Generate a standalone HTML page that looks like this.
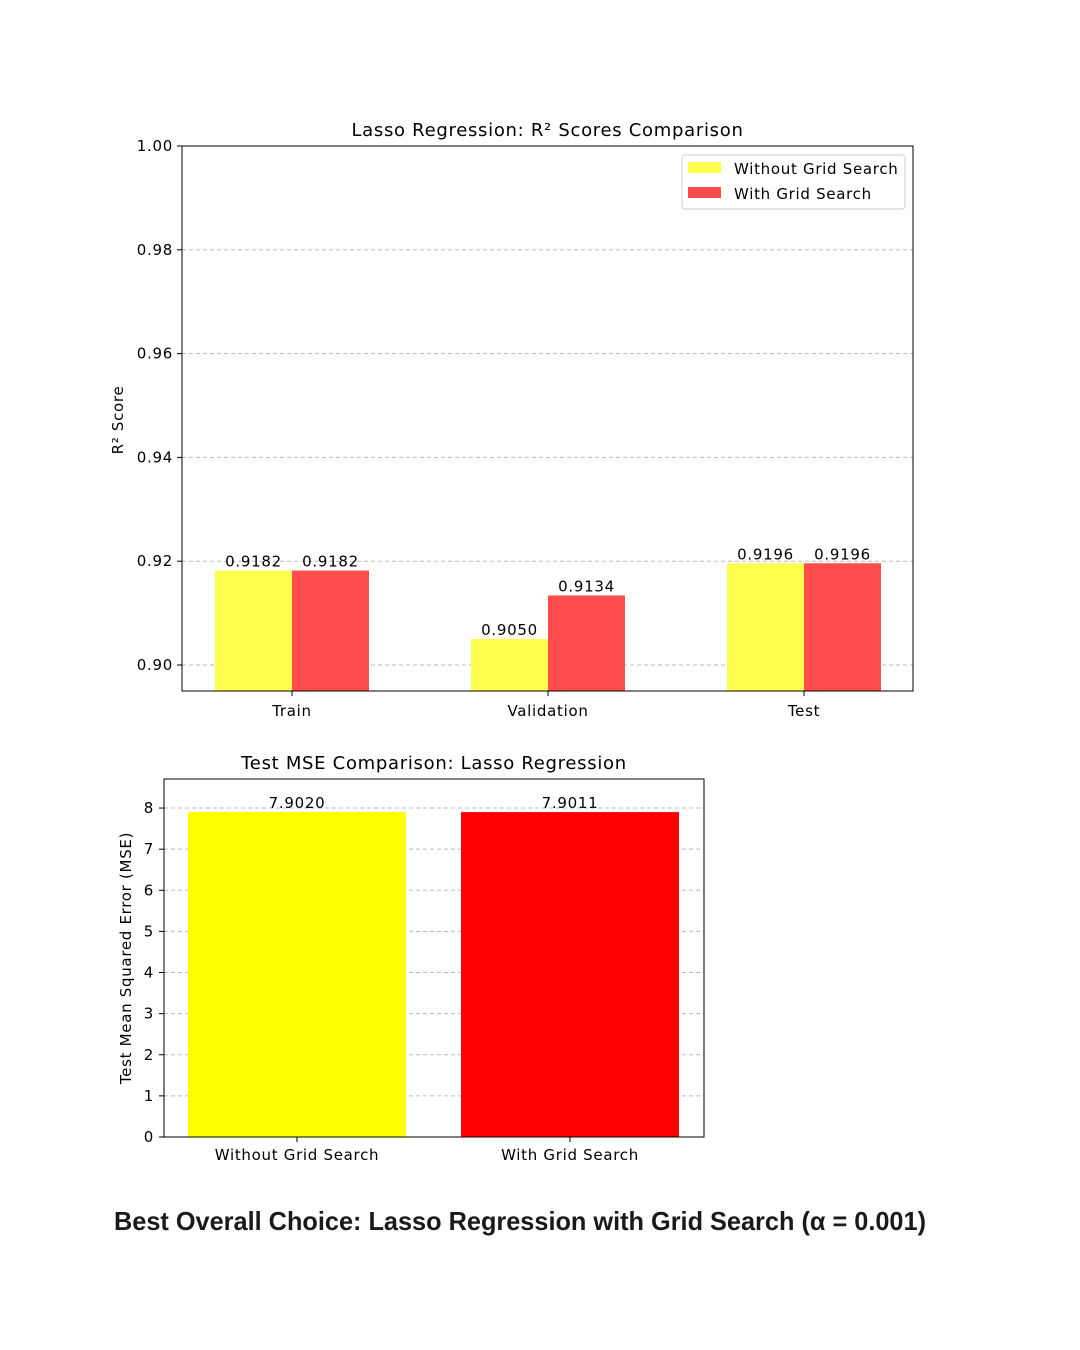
<!DOCTYPE html>
<html><head><meta charset="utf-8">
<style>
body{margin:0;background:#fff;}
svg{display:block;font-family:"DejaVu Sans","Liberation Sans",sans-serif;}
svg g text{letter-spacing:0.7px;}
</style></head>
<body>
<svg id="svg" width="1080" height="1350" xmlns="http://www.w3.org/2000/svg">
<text x="114" y="1230" font-size="26" font-weight="bold" textLength="812" lengthAdjust="spacingAndGlyphs" font-family="Liberation Sans, sans-serif" fill="#1a1a1a">Best Overall Choice: Lasso Regression with Grid Search (α = 0.001)</text>
</svg>
<script>
const categories = ["Train","Validation","Test"];
const withoutGS = [0.9182,0.9050,0.9196];
const withGS = [0.9182,0.9134,0.9196];
const r2Ticks = [0.90,0.92,0.94,0.96,0.98,1.00];
const mseCategories = ["Without Grid Search","With Grid Search"];
const mseValues = [7.9020,7.9011];
const mseTicks = [0,1,2,3,4,5,6,7,8];

const NS="http://www.w3.org/2000/svg";
const svg=document.getElementById('svg');
function mk(tag,attrs,parent,text){const e=document.createElementNS(NS,tag);for(const k in attrs)e.setAttribute(k,attrs[k]);if(text!==undefined)e.textContent=text;(parent||svg).appendChild(e);return e;}

// Chart 1
const g1=mk('g',{});


const L1=182,R1=913,T1=146,B1=691;
const y1=v=>146+(1.00-v)*5190;
const x1=i=>292+i*256;
r2Ticks.forEach(t=>{
  const y=y1(t);
  if(t<1.0){const gl=mk('line',{x1:L1,x2:R1,y1:y,y2:y,stroke:'#bbb','stroke-dasharray':'4,3','stroke-width':1},g1);
  }
  mk('line',{x1:L1-5,x2:L1,y1:y,y2:y,stroke:'#000'},g1);
  const tl=mk('text',{x:L1-9,y:y+5,'text-anchor':'end','font-size':15},g1,t.toFixed(2));
  
});
const bw=77;
categories.forEach((c,i)=>{
  const cx=x1(i);
  [[withoutGS[i],'#ffff4d',cx-bw],[withGS[i],'#ff4d4d',cx]].forEach(([v,col,x],j)=>{
    const y=y1(v);
    const b=mk('rect',{x:x,y:y,width:bw,height:B1-y,fill:col},g1);
    
    
    const vl=mk('text',{x:x+bw/2,y:y-4,'text-anchor':'middle','font-size':15},g1,v.toFixed(4));
    
  });
  mk('line',{x1:cx,x2:cx,y1:B1,y2:B1+5,stroke:'#000'},g1);
  const xl=mk('text',{x:cx,y:B1+25,'text-anchor':'middle','font-size':15},g1,c);
  
});
mk('rect',{x:L1,y:T1,width:R1-L1,height:B1-T1,fill:'none',stroke:'#000'},g1);
const t1=mk('text',{x:(L1+R1)/2,y:T1-10,'text-anchor':'middle','font-size':18},g1,'Lasso Regression: R² Scores Comparison');

const ya=mk('text',{x:123,y:420,'text-anchor':'middle','font-size':15,transform:'rotate(-90 123 420)'},g1,'R² Score');

const lg=mk('g',{},g1);

mk('rect',{x:682,y:155,width:223,height:54,fill:'#fff',stroke:'#ccc',rx:3},lg);
mk('rect',{x:688,y:162,width:33,height:11,fill:'#ffff4d'},lg);
mk('rect',{x:688,y:187,width:33,height:11,fill:'#ff4d4d'},lg);
const le1=mk('text',{x:734,y:174,'font-size':15},lg,'Without Grid Search');

const le2=mk('text',{x:734,y:199,'font-size':15},lg,'With Grid Search');


// Chart 2
const g2=mk('g',{});


const L2=164,R2=704,T2=779,B2=1137;
const y2=v=>1137-v*41.12;
const x2=i=>297+i*273;
mseTicks.forEach(t=>{
  const y=y2(t);
  if(t>0){const gl=mk('line',{x1:L2,x2:R2,y1:y,y2:y,stroke:'#bbb','stroke-dasharray':'4,3'},g2);
  }
  mk('line',{x1:L2-5,x2:L2,y1:y,y2:y,stroke:'#000'},g2);
  const tl=mk('text',{x:L2-10,y:y+5,'text-anchor':'end','font-size':15},g2,String(t));
  
});
const cols=['#ffff00','#ff0000'];
mseCategories.forEach((c,i)=>{
  const cx=x2(i),w=218,y=y2(mseValues[i]);
  const b=mk('rect',{x:cx-w/2,y:y,width:w,height:B2-y,fill:cols[i]},g2);
  
  const vl=mk('text',{x:cx,y:y-4,'text-anchor':'middle','font-size':15},g2,mseValues[i].toFixed(4));
  
  mk('line',{x1:cx,x2:cx,y1:B2,y2:B2+5,stroke:'#000'},g2);
  const xl=mk('text',{x:cx,y:B2+23,'text-anchor':'middle','font-size':15},g2,c);
  
});
mk('rect',{x:L2,y:T2,width:R2-L2,height:B2-T2,fill:'none',stroke:'#000'},g2);
const t2=mk('text',{x:(L2+R2)/2,y:T2-10,'text-anchor':'middle','font-size':18},g2,'Test MSE Comparison: Lasso Regression');

const ya2=mk('text',{x:131,y:958,'text-anchor':'middle','font-size':15,transform:'rotate(-90 131 958)'},g2,'Test Mean Squared Error (MSE)');

</script>
</body></html>
